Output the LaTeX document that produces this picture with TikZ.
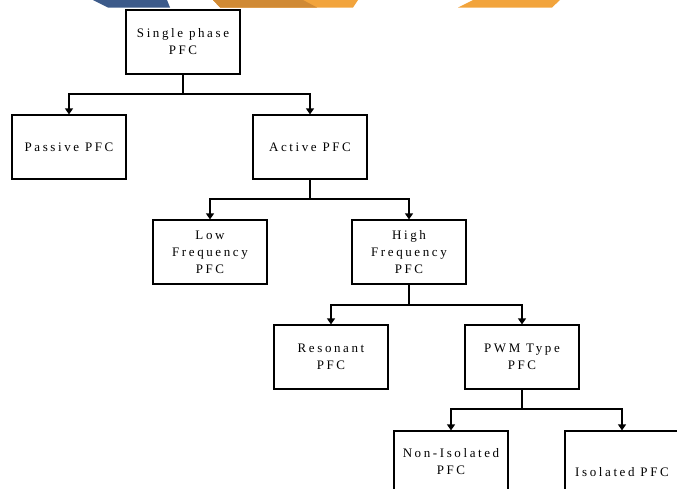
\documentclass[tikz,border=0pt]{standalone}
\usepackage{fontspec}
\usepackage{tikz}
\usetikzlibrary{arrows.meta}
\newfontfamily\pfcfont[LetterSpace=20]{Liberation Serif}
\definecolor{logoblue}{HTML}{3C5A8A}
\definecolor{logodark}{HTML}{D08A35}
\definecolor{logolight}{HTML}{F2A43C}
\tikzset{
    blk/.style={draw, line width=1.2pt, minimum width=114pt, minimum height=64pt, inner sep=0pt, align=center,
        font=\pfcfont\fontsize{13}{17}\selectfont},
    arr/.style={line width=1.2pt, -{Triangle[width=8pt,length=6pt]}},
    ln/.style={line width=1.2pt}
}

\begin{document}
\begin{tikzpicture}[x=1pt, y=-1pt]
    \useasboundingbox (0,0) rectangle (677,488);

    \fill[logoblue] (93,0) -- (167,0) -- (170,7.5) -- (108,7.5) -- cycle;
    \fill[logolight] (213,0) -- (358,0) -- (353,7.5) -- (220,7.5) -- cycle;
    \fill[logodark] (213,0) -- (303,0) -- (317,7.5) -- (220,7.5) -- cycle;
    \fill[logolight] (473,0) -- (560,0) -- (552,7.5) -- (458,7.5) -- cycle;

    \node[blk, minimum height=64pt] (single) at (183,42) {Single phase\\PFC};
    \node[blk] (passive) at (69,147) {Passive PFC};
    \node[blk] (active) at (310,147) {Active PFC};
    \node[blk] (low) at (210,252) {Low\\Frequency\\PFC};
    \node[blk] (high) at (409,252) {High\\Frequency\\PFC};
    \node[blk] (reson) at (331,357) {Resonant\\PFC};
    \node[blk] (pwm) at (522,357) {PWM Type\\PFC};
    \node[blk, minimum height=62pt] (nonisol) at (451,462) {Non-Isolated\\PFC};
    \node[blk, minimum height=82pt] (isol) at (622,472) {Isolated PFC};

    \coordinate (b1) at (183,94);
    \coordinate (b2) at (310,199);
    \coordinate (b3) at (409,305);
    \coordinate (b4) at (522,409);

    \draw[ln] (single.south) -- (b1);
    \draw[arr] (b1) -| (passive.north);
    \draw[arr] (b1) -| (active.north);

    \draw[ln] (active.south) -- (b2);
    \draw[arr] (b2) -| (low.north);
    \draw[arr] (b2) -| (high.north);

    \draw[ln] (high.south) -- (b3);
    \draw[arr] (b3) -| (reson.north);
    \draw[arr] (b3) -| (pwm.north);

    \draw[ln] (pwm.south) -- (b4);
    \draw[arr] (b4) -| (nonisol.north);
    \draw[arr] (b4) -| (isol.north);
\end{tikzpicture}
\end{document}
